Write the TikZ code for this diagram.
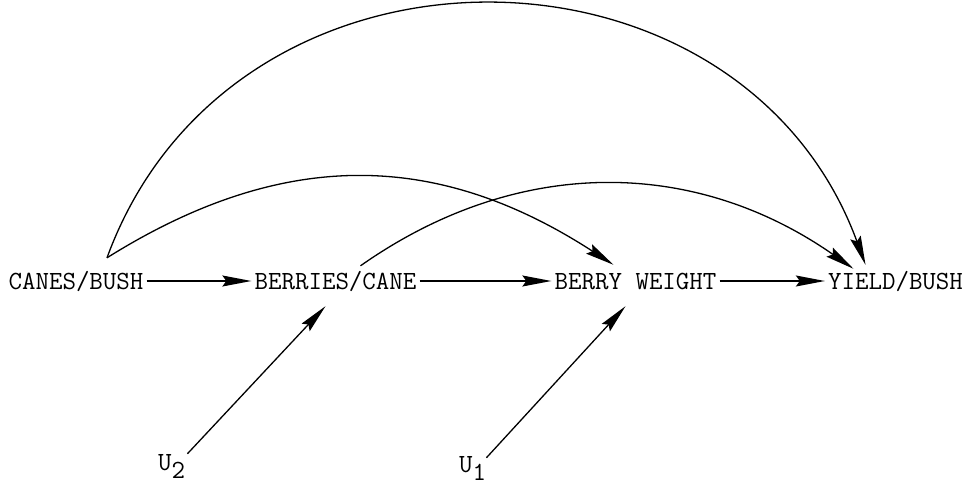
\documentclass[tikz,border=0pt]{standalone}
\usepackage{fontspec}
\usetikzlibrary{arrows.meta}
\begin{document}
\begin{tikzpicture}[x=1pt,y=-1pt,>={Stealth[length=29pt,width=11pt,inset=4pt]},
    lbl/.style={font=\fontsize{26.2}{30}\selectfont\ttfamily,text height=16pt,text depth=0pt,inner sep=3pt},
    arr/.style={->,line width=1.3pt}]
    \useasboundingbox (0,0) rectangle (963,486);

    % variables
    \node[lbl] (canes) at (76,281) {CANES/BUSH};
    \node[lbl] (berries) at (335.5,281) {BERRIES/CANE};
    \node[lbl] (weight) at (635.5,281) {BERRY WEIGHT};
    \node[lbl] (yield) at (895.5,281) {YIELD/BUSH};
    \node[lbl,anchor=base west] (u2) at (155,470) {U\raisebox{-8pt}{2}};
    \node[lbl,anchor=base west] (u1) at (456,472) {U\raisebox{-8pt}{1}};

    % direct paths
    \draw[arr] (canes) -- (berries);
    \draw[arr] (berries) -- (weight);
    \draw[arr] (weight) -- (yield);

    % residuals
    \draw[arr] ([xshift=-1pt,yshift=-3pt]u2.north east) -- ([xshift=-10pt,yshift=-14pt]berries.south);
    \draw[arr] ([xshift=-3pt,yshift=-5pt]u1.north east) -- ([xshift=-10pt,yshift=-14pt]weight.south);

    % indirect paths
    \draw[arr] ([xshift=31pt,yshift=12pt]canes.north) .. controls (232,-84) and (740,-77) .. ([xshift=-30pt,yshift=5pt]yield.north);
    \draw[arr] ([xshift=31pt,yshift=12pt]canes.north) .. controls (284,147) and (438,151) .. ([xshift=-22pt,yshift=5pt]weight.north);
    \draw[arr] ([xshift=25pt,yshift=4pt]berries.north) .. controls (518,155) and (695,158) .. ([xshift=-42pt,yshift=1pt]yield.north);
\end{tikzpicture}
\end{document}
